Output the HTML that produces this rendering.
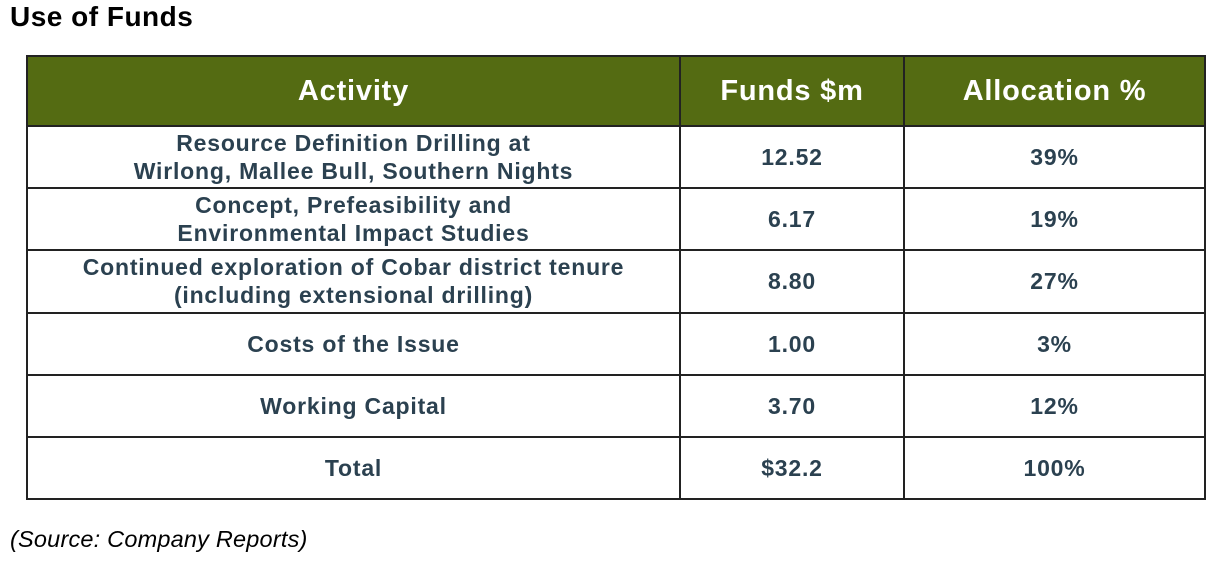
<!DOCTYPE html>
<html><head><style>
body{margin:0;width:1216px;height:570px;background:#fff;position:relative;font-family:"Liberation Sans",sans-serif;overflow:hidden}
.t{position:absolute;left:10px;top:1px;font-size:28px;font-weight:bold;color:#000;letter-spacing:0.5px}
.s{position:absolute;left:10px;top:526px;font-size:23.5px;font-style:italic;color:#000;letter-spacing:0.2px}
table{position:absolute;left:26px;top:55px;border-collapse:collapse;width:1180px}
td,th{border:2px solid #222;text-align:center;font-weight:bold;color:#2b4150;font-size:23px;letter-spacing:0.8px;line-height:28px;padding:0}
th{background:#546b12;color:#fff;font-size:29px;letter-spacing:0.8px;height:68px}
td{height:60.2px}
</style></head><body>
<div class="t">Use of Funds</div>
<table>
<tr><th style="width:651px">Activity</th><th style="width:222px">Funds $m</th><th>Allocation %</th></tr>
<tr><td>Resource Definition Drilling at<br>Wirlong, Mallee Bull, Southern Nights</td><td>12.52</td><td>39%</td></tr>
<tr><td>Concept, Prefeasibility and<br>Environmental Impact Studies</td><td>6.17</td><td>19%</td></tr>
<tr><td>Continued exploration of Cobar district tenure<br>(including extensional drilling)</td><td>8.80</td><td>27%</td></tr>
<tr><td>Costs of the Issue</td><td>1.00</td><td>3%</td></tr>
<tr><td>Working Capital</td><td>3.70</td><td>12%</td></tr>
<tr><td>Total</td><td>$32.2</td><td>100%</td></tr>
</table>
<div class="s">(Source: Company Reports)</div>
</body></html>
